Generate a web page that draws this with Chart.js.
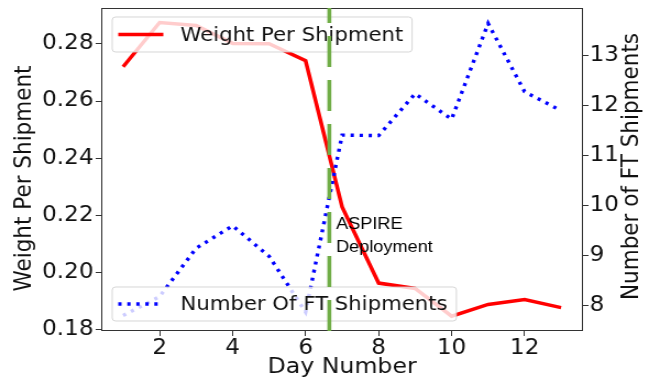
<!DOCTYPE html>
<html>
<head>
<meta charset="utf-8">
<script src="https://cdn.jsdelivr.net/npm/chart.js@4/dist/chart.umd.min.js"></script>
<style>
  html, body { margin: 0; padding: 0; background: #fff; }
</style>
</head>
<body>
<canvas id="chart" width="590" height="381" style="display:block;width:649px;height:381px"></canvas>
<script>
const days = [1, 2, 3, 4, 5, 6, 7, 8, 9, 10, 11, 12, 13];
const weightPerShipment = [0.272, 0.2875, 0.2865, 0.2802, 0.2801, 0.2741, 0.2229, 0.1962, 0.1943, 0.1846, 0.1887, 0.1904, 0.1876];
const ftShipments = [7.79, 8.17, 9.14, 9.59, 8.98, 7.86, 11.41, 11.40, 12.24, 11.73, 13.65, 12.28, 11.90];
const dayTicks = [2, 4, 6, 8, 10, 12];
const weightTicks = [0.18, 0.20, 0.22, 0.24, 0.26, 0.28];
const shipmentTicks = [8, 9, 10, 11, 12, 13];
const deployDay = 6.65;

const weightRange = [0.1794, 0.2926];
const shipmentRange = [7.48, 13.96];
const dayRange = [0.4, 13.6];

const tickFont = { family: 'DejaVu Sans', size: 21 };
const ink = '#111';

function fixedTicks(values) {
  return scale => { scale.ticks = values.map(v => ({ value: v })); };
}

// fixed axis sizes, no extra padding for the end labels
function fitTo(size) {
  return scale => {
    if (scale.isHorizontal()) scale.height = size; else scale.width = size;
    scale.paddingTop = scale.paddingBottom = scale.paddingLeft = scale.paddingRight = 0;
  };
}

function drawLegend(ctx, x, y, h, label, color, dash) {
  ctx.save();
  ctx.font = '19.3px "DejaVu Sans"';
  const textX = x + 62;
  const w = textX - x + ctx.measureText(label).width + 8;
  ctx.beginPath();
  ctx.roundRect(x, y, w, h, 3);
  ctx.fillStyle = 'rgba(255,255,255,0.8)';
  ctx.fill();
  ctx.strokeStyle = 'rgba(204,204,204,0.8)';
  ctx.lineWidth = 1;
  ctx.stroke();
  ctx.beginPath();
  ctx.setLineDash(dash);
  ctx.strokeStyle = color;
  ctx.lineWidth = 3.4;
  ctx.moveTo(x + 5.5, y + h / 2);
  ctx.lineTo(x + 46.5, y + h / 2);
  ctx.stroke();
  ctx.setLineDash([]);
  ctx.fillStyle = ink;
  ctx.textBaseline = 'middle';
  ctx.fillText(label, textX, y + h / 2 + 1);
  ctx.restore();
}

const decorations = {
  id: 'decorations',
  beforeDatasetsDraw(chart) {
    const {ctx, chartArea: a} = chart;
    ctx.save();
    ctx.strokeStyle = '#333';
    ctx.lineWidth = 1;
    ctx.strokeRect(a.left + 0.5, a.top + 0.5, a.right - a.left - 1, a.bottom - a.top - 1);
    ctx.restore();
  },
  beforeDatasetDraw(chart, args) {
    if (args.index !== 2) return;
    const {ctx, chartArea: a} = chart;
    drawLegend(ctx, a.left + 10, a.top + 9, 35, 'Weight Per Shipment', 'red', []);
    drawLegend(ctx, a.left + 10, a.bottom - 44, 34, 'Number Of FT Shipments', 'blue', [3, 5.2]);
  },
  afterDraw(chart) {
    const {ctx, chartArea: a, scales} = chart;
    ctx.save();
    // annotation
    ctx.fillStyle = '#000';
    ctx.font = '16.5px "Liberation Sans", Arial, sans-serif';
    ctx.textBaseline = 'alphabetic';
    ctx.textAlign = 'left';
    const tx = scales.x.getPixelForValue(deployDay) + 6;
    ctx.fillText('ASPIRE', tx, 228.5);
    ctx.fillText('Deployment', tx, 252);
    // y axis titles, both reading bottom to top
    ctx.fillStyle = ink;
    ctx.font = '21.5px "DejaVu Sans"';
    ctx.textAlign = 'center';
    ctx.textBaseline = 'middle';
    const midY = (a.top + a.bottom) / 2;
    ctx.save();
    ctx.translate(22.5, midY + 9);
    ctx.rotate(-Math.PI / 2);
    ctx.fillText('Weight Per Shipment', 0, 0);
    ctx.restore();
    ctx.save();
    ctx.translate(574.5, midY - 3);
    ctx.rotate(-Math.PI / 2);
    ctx.fillText('Number of FT Shipments', 0, 0);
    ctx.restore();
    ctx.restore();
  }
};

new Chart(document.getElementById('chart'), {
  type: 'line',
  data: {
    datasets: [
      {
        label: 'Weight Per Shipment',
        data: days.map((d, i) => ({ x: d, y: weightPerShipment[i] })),
        yAxisID: 'y',
        borderColor: 'red',
        borderWidth: 3.5,
        pointRadius: 0,
        tension: 0,
        order: 2
      },
      {
        label: 'Number Of FT Shipments',
        data: days.map((d, i) => ({ x: d, y: ftShipments[i] })),
        yAxisID: 'y1',
        borderColor: 'blue',
        borderWidth: 3.4,
        borderDash: [3, 5.2],
        pointRadius: 0,
        tension: 0,
        order: 1
      },
      {
        label: 'ASPIRE Deployment',
        data: [{ x: deployDay, y: weightRange[0] }, { x: deployDay, y: weightRange[1] }],
        yAxisID: 'y',
        borderColor: '#70ad47',
        borderWidth: 3.6,
        borderDash: [31, 13],
        pointRadius: 0,
        order: 0
      }
    ]
  },
  options: {
    responsive: false,
    animation: false,
    layout: { padding: { top: 8, left: 0, right: 0, bottom: 0 } },
    plugins: { legend: { display: false }, tooltip: { enabled: false } },
    scales: {
      x: {
        type: 'linear',
        min: dayRange[0],
        max: dayRange[1],
        afterBuildTicks: fixedTicks(dayTicks),
        afterFit: fitTo(50),
        border: { display: false },
        grid: { drawOnChartArea: false, tickLength: 5, color: '#333' },
        ticks: { font: tickFont, color: ink, padding: 0, maxRotation: 0 },
        title: { display: true, text: 'Day Number', color: ink, font: { family: 'DejaVu Sans', size: 21.5 }, padding: { top: 0, bottom: 1 } }
      },
      y: {
        position: 'left',
        min: weightRange[0],
        max: weightRange[1],
        afterBuildTicks: fixedTicks(weightTicks),
        afterFit: fitTo(92),
        border: { display: false },
        grid: { drawOnChartArea: false, tickLength: 5, color: '#333' },
        ticks: { font: tickFont, color: ink, padding: 2, callback: v => v.toFixed(2) }
      },
      y1: {
        position: 'right',
        min: shipmentRange[0],
        max: shipmentRange[1],
        afterBuildTicks: fixedTicks(shipmentTicks),
        afterFit: fitTo(60),
        border: { display: false },
        grid: { drawOnChartArea: false, tickLength: 5, color: '#333' },
        ticks: { font: tickFont, color: ink, padding: 1, callback: v => String(v) }
      }
    }
  },
  plugins: [decorations]
});
</script>
</body>
</html>
